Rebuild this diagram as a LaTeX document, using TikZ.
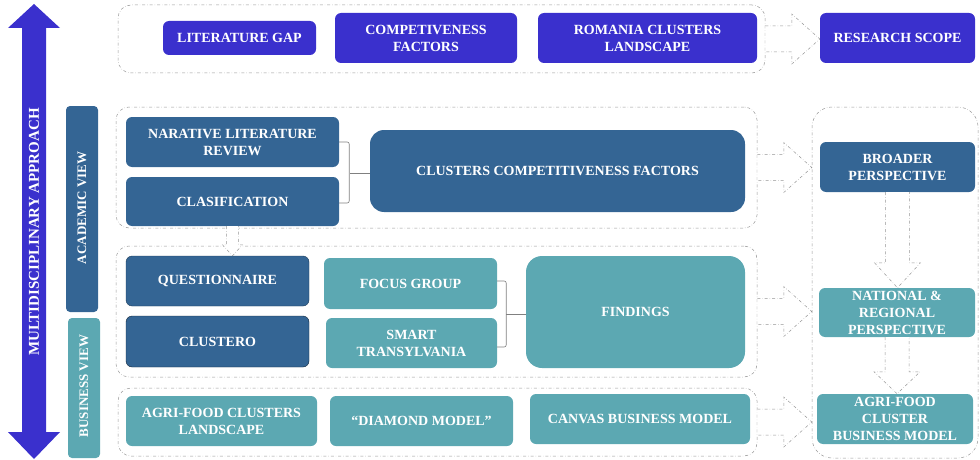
\documentclass[tikz,border=0pt]{standalone}
\usepackage{fontspec}
\setmainfont{Liberation Serif}
\usetikzlibrary{calc}
\definecolor{bblue}{RGB}{58,48,205}
\definecolor{sblue}{RGB}{52,101,148}
\definecolor{teal2}{RGB}{92,168,178}
\definecolor{dgray}{RGB}{150,150,150}
\tikzset{
  box/.style={rounded corners=6pt, text=white, align=center, inner sep=1pt,
    font=\bfseries\fontsize{14}{17}\selectfont},
  bb/.style={box, fill=bblue},
  sb/.style={box, fill=sblue},
  tb/.style={box, fill=teal2},
  grp/.style={draw=dgray, dash dot, line width=0.5pt, rounded corners=13pt},
  hol/.style={draw=dgray, dash dot, line width=0.5pt, fill=white},
  brk/.style={draw=gray, line width=0.6pt, rounded corners=2pt}
}
\newcommand\HolR[2]{%
  \path[hol] let \p1=(#1.east), \p2=(#2.west) in
    (\x1,\y1+13pt) -- (\x2-28pt,\y1+13pt) -- (\x2-28pt,\y1+25pt) -- (\x2,\y1)
    -- (\x2-28pt,\y1-25pt) -- (\x2-28pt,\y1-13pt) -- (\x1,\y1-13pt);}
\newcommand\HolD[5]{%
  \path[hol] let \p1=(#1.south), \p2=(#2.north) in
    (\x1-#3,\y1) -- (\x1-#3,\y2+#5) -- (\x1-#4,\y2+#5) -- (\x1,\y2)
    -- (\x1+#4,\y2+#5) -- (\x1+#3,\y2+#5) -- (\x1+#3,\y1);}
\begin{document}
\begin{tikzpicture}[x=1pt,y=-1pt]
\useasboundingbox (0,0) rectangle (980,460);
% big double arrow
\fill[bblue] (34,4) -- (60,28) -- (46,28) -- (46,432) -- (60,432) -- (34,459)
  -- (8,432) -- (22,432) -- (22,28) -- (8,28) -- cycle;
\node[rotate=90, text=white, font=\bfseries\fontsize{15}{16}\selectfont] (mda) at (34,232) {MULTIDISCIPLINARY APPROACH};
% view bars
\node[sb, rounded corners=4pt, minimum width=32, minimum height=206] (acvbar) at (82,209) {};
\node[rotate=90, text=white, font=\bfseries\fontsize{13}{14}\selectfont] (acv) at (82,208) {ACADEMIC VIEW};
\node[tb, rounded corners=4pt, minimum width=32, minimum height=140] (bsvbar) at (84,388) {};
\node[rotate=90, text=white, font=\bfseries\fontsize{13}{14}\selectfont] (bsv) at (84,386) {BUSINESS VIEW};
% groups
\node[grp, minimum width=647, minimum height=68] (gtop) at (441.5,39) {};
\node[grp, minimum width=641, minimum height=121] (gacad) at (436.5,167.5) {};
\node[grp, minimum width=641, minimum height=131] (gmid) at (436.5,311.5) {};
\node[grp, minimum width=639, minimum height=68] (gbot) at (437.5,422) {};
\node[grp, minimum width=166, minimum height=351, rounded corners=20pt] (gright) at (895,282.5) {};
% top row
\node[bb, minimum width=153, minimum height=34] (litgap) at (239.5,38) {LITERATURE GAP};
\node[bb, minimum width=182, minimum height=50] (compf) at (426,38) {COMPETIVENESS\\FACTORS};
\node[bb, minimum width=219, minimum height=50] (romania) at (647.5,38) {ROMANIA CLUSTERS\\LANDSCAPE};
\node[bb, minimum width=155, minimum height=50] (rscope) at (897.5,38) {RESEARCH SCOPE};
% academic
\node[sb, minimum width=213, minimum height=50] (narr) at (232.5,142) {NARATIVE LITERATURE\\REVIEW};
\node[sb, minimum width=213, minimum height=49] (clas) at (232.5,201.5) {CLASIFICATION};
\node[sb, rounded corners=14pt, minimum width=375, minimum height=82] (ccf) at (557.5,171) {CLUSTERS COMPETITIVENESS FACTORS};
% middle
\node[sb, draw=sblue!60!black, minimum width=183, minimum height=50] (quest) at (217.5,281) {QUESTIONNAIRE};
\node[sb, draw=sblue!40!black, minimum width=183, minimum height=51] (clustero) at (217.5,341.5) {CLUSTERO};
\node[tb, minimum width=173, minimum height=51] (focus) at (410.5,283.5) {FOCUS GROUP};
\node[tb, minimum width=171, minimum height=50] (smart) at (411.5,343) {SMART\\TRANSYLVANIA};
\node[tb, rounded corners=16pt, minimum width=219, minimum height=112] (find) at (635.5,312) {FINDINGS};
% bottom
\node[tb, minimum width=191, minimum height=50] (agril) at (221.5,421) {AGRI-FOOD CLUSTERS\\LANDSCAPE};
\node[tb, minimum width=183, minimum height=50] (diam) at (421.5,421) {“DIAMOND MODEL”};
\node[tb, minimum width=220, minimum height=50] (canvas) at (640,419) {CANVAS BUSINESS MODEL};
% right column
\node[sb, minimum width=155, minimum height=50] (broad) at (897.5,167) {BROADER\\PERSPECTIVE};
\node[tb, minimum width=156, minimum height=49] (natl) at (897,312.5) {NATIONAL \&\\REGIONAL\\PERSPECTIVE};
\node[tb, minimum width=156, minimum height=50] (agbm) at (895,419) {AGRI-FOOD\\CLUSTER\\BUSINESS MODEL};
% brackets
\draw[brk] (narr.east |- 0,142) -- ++(10,0) -- ++(0,61) -- ++(-10,0);
\draw[brk] (350,173) -- (ccf.west |- 0,173);
\draw[brk] (smart.east |- 0,281) -- ++(9,0) -- ++(0,66) -- ++(-9,0);
\draw[brk] (506,314) -- (find.west |- 0,314);
% hollow arrows
\HolR{gtop}{rscope}
\HolR{gacad}{gright}
\HolR{gmid}{gright}
\HolR{gbot}{gright}
\HolD{broad}{natl}{12pt}{23pt}{25pt}
\HolD{natl}{agbm}{12pt}{23pt}{22pt}
\HolD{clas}{quest}{6pt}{10pt}{11pt}
\end{tikzpicture}
\end{document}
